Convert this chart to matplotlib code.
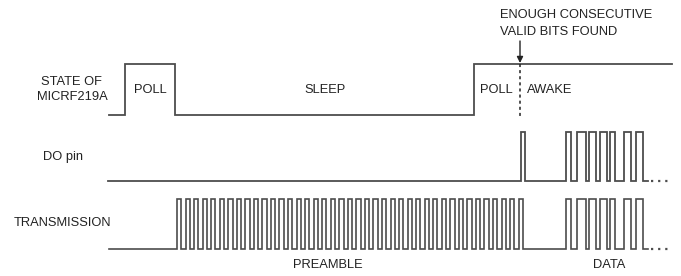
import matplotlib
matplotlib.use("Agg")
import matplotlib.pyplot as plt

# ---------------- data (time axis in diagram units) ----------------
# State of MICRF219A: (time, level) steps
state_times = [109, 125, 175, 474, 672]
state_levels = [0, 1, 0, 1, 1]

# DO pin: high intervals
do_start, do_end = 108, 648
do_highs = [(521, 525),
            (566, 571), (577, 586), (589, 596), (600, 607),
            (610, 615), (624, 631), (636, 643)]

# Transmission: preamble bits then data high intervals
tx_start, tx_end = 109, 648
preamble_start = 177
preamble_bit_width = 4.27
preamble_bits = "1010101010101010101010101010101010101010101010101010101010101010101010101010101010"
data_highs = [(566, 571), (577, 586), (589, 596), (600, 607),
              (610, 615), (624, 631), (636, 643)]
dots_start, dots_end = 651, 672

valid_time = 520

row_labels = ["STATE OF\nMICRF219A", "DO pin", "TRANSMISSION"]
state_names = ["POLL", "SLEEP", "POLL", "AWAKE"]

# ---------------- layout ----------------
W, H = 681, 276
LINE = "#4d4d4d"
TXT = "#222222"
FS = 9.3
FONT = ["Liberation Sans", "DejaVu Sans"]

fig = plt.figure(figsize=(W / 100, H / 100), dpi=100)
ax = fig.add_axes([0, 0, 1, 1])
ax.set_xlim(0, W)
ax.set_ylim(H, 0)
ax.axis("off")

rows = {"state": (115, 64), "do": (181, 132), "tx": (249, 199)}


def ylev(row, lv):
    lo, hi = rows[row]
    return lo + (hi - lo) * lv


def trace_from_highs(start, end, highs):
    xs, ys = [start], [0]
    for a, b in highs:
        xs += [a, a, b, b]
        ys += [0, 1, 1, 0]
    xs.append(end)
    ys.append(0)
    return xs, ys


# state trace
ax.step(state_times, [ylev("state", v) for v in state_levels], where="post",
        color=LINE, lw=1.3, solid_joinstyle="miter")

# DO trace
xs, ys = trace_from_highs(do_start, do_end, do_highs)
ax.plot(xs, [ylev("do", v) for v in ys], color=LINE, lw=1.3, solid_joinstyle="miter")
ax.plot([dots_start, dots_end], [ylev("do", 0)] * 2, color=LINE, lw=1.6,
        linestyle=(0, (1, 2.2)), dash_capstyle="butt")

# TX trace
pre_highs = []
for i, b in enumerate(preamble_bits):
    if b == "1":
        a = preamble_start + i * preamble_bit_width
        pre_highs.append((a, a + preamble_bit_width))
xs, ys = trace_from_highs(tx_start, tx_end, pre_highs + data_highs)
ax.plot(xs, [ylev("tx", v) for v in ys], color=LINE, lw=1.2, solid_joinstyle="miter")
ax.plot([dots_start, dots_end], [ylev("tx", 0)] * 2, color=LINE, lw=1.6,
        linestyle=(0, (1, 2.2)), dash_capstyle="butt")

# valid-bits marker
ax.plot([valid_time, valid_time], [64, 118], color="#222222", lw=1.1,
        linestyle=(0, (2, 2)))
ax.annotate("", xy=(valid_time, 63), xytext=(valid_time, 41),
            arrowprops=dict(arrowstyle="-|>", color="#222222", lw=1.0,
                            mutation_scale=9, shrinkA=0, shrinkB=0))

# texts
kw = dict(fontsize=FS, color=TXT, family=FONT, va="center")
ax.text(71, 82, "STATE OF", ha="center", **kw)
ax.text(72, 97, "MICRF219A", ha="center", **kw)
ax.text(63, 157, row_labels[1], ha="center", **kw)
ax.text(62, 223, row_labels[2], ha="center", **kw)
ax.text(150, 90, state_names[0], ha="center", **kw)
ax.text(325, 90, state_names[1], ha="center", **kw)
ax.text(496, 90, state_names[2], ha="center", **kw)
ax.text(527, 90, state_names[3], ha="left", **kw)
ax.text(328, 265, "PREAMBLE", ha="center", **kw)
ax.text(609, 265, "DATA", ha="center", **kw)
ax.text(500, 15, "ENOUGH CONSECUTIVE", ha="left", **kw)
ax.text(500, 32, "VALID BITS FOUND", ha="left", **kw)

fig.savefig("out.png", dpi=100, facecolor="white")
